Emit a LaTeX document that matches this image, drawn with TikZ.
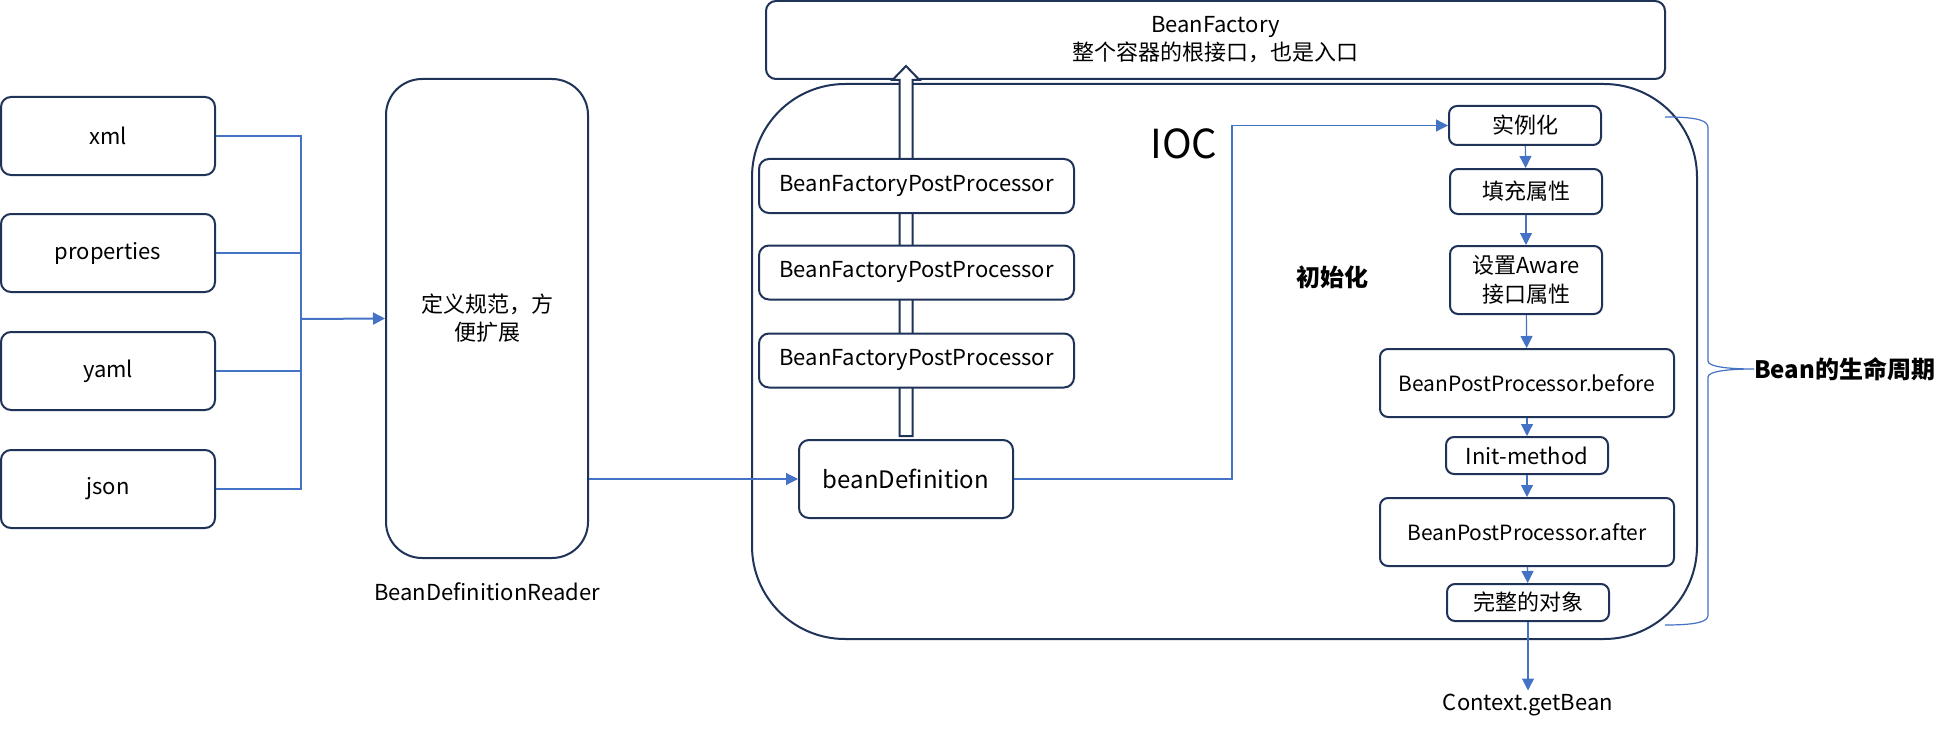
\documentclass[tikz,border=0pt]{standalone}
\usepackage{fontspec}
\setmainfont{Noto Sans CJK SC}
\usetikzlibrary{arrows.meta}
\definecolor{boxline}{HTML}{1F3257}
\definecolor{linkblue}{HTML}{4472C4}
\tikzset{
  box/.style={draw=boxline, line width=2pt, fill=white, rounded corners=10pt, inner sep=0pt, align=center, font=\fontsize{22}{28}\selectfont},
  stagebox/.style={box, rounded corners=8pt},
  txt/.style={align=center, font=\fontsize{22}{28}\selectfont},
  boldtxt/.style={font=\bfseries\fontsize{24}{28}\selectfont},
  link/.style={draw=linkblue, line width=1.2pt},
  linkarrow/.style={link, -{Triangle[length=12pt,width=12pt]}},
  hollow/.style={draw=boxline, line width=2pt, fill=white, line join=miter},
}
\begin{document}
\begin{tikzpicture}[x=1pt, y=-1pt]
\useasboundingbox (0,0) rectangle (1949,733);
% sources and reader
\node[box, minimum width=214pt, minimum height=78pt] (xml) at (108,136) {xml};
\node[box, minimum width=214pt, minimum height=78pt] (properties) at (108,253) {properties};
\node[box, minimum width=214pt, minimum height=78pt] (yaml) at (108,371) {yaml};
\node[box, minimum width=214pt, minimum height=78pt] (json) at (108,489) {json};
\node[box, rounded corners=36pt, minimum width=202pt, minimum height=479pt] (reader) at (487,318.5) {定义规范，方\\便扩展};
\node[txt] (readername) at (487,592) {BeanDefinitionReader};
\coordinate (bus) at (301,319);
\draw[link] (xml.east) -| (bus);
\draw[link] (properties.east) -| (bus);
\draw[link] (yaml.east) -| (bus);
\draw[link] (json.east) -| (bus);
\draw[linkarrow, line width=2pt] (bus) -- (reader.west);
% container
\node[box, rounded corners=93pt, minimum width=945pt, minimum height=555pt] (ioc) at (1224.5,361.5) {};
\node[box, minimum width=899pt, minimum height=78pt] (factory) at (1215.5,40) {BeanFactory\\整个容器的根接口，也是入口};
\node[font=\fontsize{40}{40}\selectfont] (ioclabel) at (1184,144) {IOC};
\node[box, minimum width=214pt, minimum height=78pt, font=\fontsize{24}{28}\selectfont] (bd) at (906,479) {beanDefinition};
\draw[hollow] ([xshift=-6.5pt,yshift=3pt]bd.north) -- ++(0,-356) -- ++(-7,0) -- ++(13.5,-14) -- ++(13.5,14) -- ++(-7,0) -- ++(0,356) -- cycle;
\node[box, minimum width=315pt, minimum height=54pt] (bfpp1) at (916.5,186) {BeanFactoryPostProcessor};
\node[box, minimum width=315pt, minimum height=54pt] (bfpp2) at (916.5,272.5) {BeanFactoryPostProcessor};
\node[box, minimum width=315pt, minimum height=54pt] (bfpp3) at (916.5,360.5) {BeanFactoryPostProcessor};
\draw[linkarrow] (reader.east |- bd.west) -- (bd.west);
% lifecycle
\node[boldtxt] (initlabel) at (1332,277) {初始化};
\node[stagebox, minimum width=152pt, minimum height=39pt] (inst) at (1525,125.5) {实例化};
\node[stagebox, minimum width=152pt, minimum height=45pt] (fill) at (1526,191.5) {填充属性};
\node[stagebox, minimum width=152pt, minimum height=68pt, font=\fontsize{22}{29}\selectfont] (aware) at (1526,280) {设置Aware\\接口属性};
\node[stagebox, minimum width=294pt, minimum height=68pt, font=\fontsize{21}{28}\selectfont] (before) at (1527,383) {BeanPostProcessor.before};
\node[stagebox, minimum width=162pt, minimum height=37pt] (initm) at (1527,455.5) {Init-method};
\node[stagebox, minimum width=294pt, minimum height=68pt, font=\fontsize{21}{28}\selectfont] (after) at (1527,532) {BeanPostProcessor.after};
\node[stagebox, minimum width=162pt, minimum height=37pt] (full) at (1528,602.5) {完整的对象};
\node[txt] (ctx) at (1528,705) {Context.getBean};
\draw[linkarrow] (bd.east) -- ++(218,0) |- (inst.west);
\draw[linkarrow] (inst) -- (fill);
\draw[linkarrow] (fill) -- (aware);
\draw[linkarrow] (aware) -- (before);
\draw[linkarrow] (before) -- (initm);
\draw[linkarrow] (initm) -- (after);
\draw[linkarrow] (after) -- (full);
\draw[linkarrow] (full) -- (ctx);
% brace
\draw[link] (1665,117) .. controls (1700,117) and (1708,121) .. (1708,128) -- (1708,361) .. controls (1708,367) and (1730,369) .. (1754,369) .. controls (1730,369) and (1708,371) .. (1708,377) -- (1708,615) .. controls (1708,621) and (1700,625) .. (1665,625);
\node[boldtxt, anchor=west, inner sep=0pt] (life) at (1754,369) {Bean的生命周期};
\end{tikzpicture}
\end{document}
